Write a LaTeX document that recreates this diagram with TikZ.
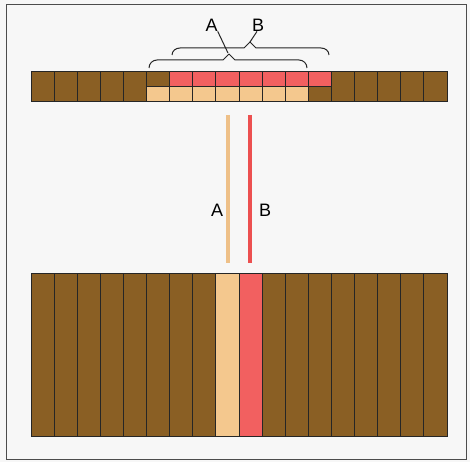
\documentclass[tikz,border=0pt]{standalone}
\usepackage{fontspec}
\setmainfont{Liberation Sans}
\definecolor{bgc}{HTML}{F7F7F7}
\definecolor{brownc}{HTML}{8A5F24}
\definecolor{tanc}{HTML}{F4C88E}
\definecolor{redc}{HTML}{F26060}
\definecolor{tanline}{HTML}{EEC088}
\definecolor{redline}{HTML}{EC5050}
\tikzset{
  cell/.style={draw=black!85, line width=1pt},
  brace/.style={draw=black!85, line width=1pt, line join=round},
  lbl/.style={font=\fontsize{18}{20}\selectfont, inner sep=0pt},
  vline/.style={line width=4pt}
}
\begin{document}
\begin{tikzpicture}[x=1pt,y=-1pt]
\useasboundingbox (0,0) rectangle (470,462);
\fill[bgc] (0,0) rectangle (470,462);
\draw[black!70, line width=0.9pt] (6,4) rectangle (466,459);
% top strip
\foreach \i in {0,...,17}{
  \pgfmathsetmacro{\xa}{31+\i*416/18}
  \pgfmathsetmacro{\xb}{31+(\i+1)*416/18}
  \ifnum\i<5
    \filldraw[cell, fill=brownc] (\xa,72) rectangle (\xb,102);
  \else\ifnum\i>12
    \filldraw[cell, fill=brownc] (\xa,72) rectangle (\xb,102);
  \else\ifnum\i=5
    \filldraw[cell, fill=brownc] (\xa,72) rectangle (\xb,87);
    \filldraw[cell, fill=tanc] (\xa,87) rectangle (\xb,102);
  \else\ifnum\i=12
    \filldraw[cell, fill=redc] (\xa,72) rectangle (\xb,87);
    \filldraw[cell, fill=brownc] (\xa,87) rectangle (\xb,102);
  \else
    \filldraw[cell, fill=redc] (\xa,72) rectangle (\xb,87);
    \filldraw[cell, fill=tanc] (\xa,87) rectangle (\xb,102);
  \fi\fi\fi\fi
}
% braces
\draw[brace] (149,68) to[out=90,in=180] (157,60) -- (223,60) -- (229,54) -- (235,60) -- (299,60) to[out=0,in=90] (307,68);
\draw[brace] (172,55) to[out=90,in=180] (180,48) -- (244,48) -- (250,42) -- (256,48) -- (321,48) to[out=0,in=90] (329,55);
\coordinate (tipA) at (228,53);
\coordinate (tipB) at (250,42);
\node[lbl] (topA) at (211.5,25) {A};
\node[lbl] (topB) at (258,25) {B};
\draw[brace] (tipA) -- (topA.south east);
\draw[brace] (tipB) -- ([xshift=-1pt]topB.south);
% vertical lines
\coordinate (a1) at (228,115);
\coordinate (a2) at (228,263);
\coordinate (b1) at (250,115);
\coordinate (b2) at (250,263);
\draw[vline, tanline] (a1) -- (a2);
\draw[vline, redline] (b1) -- (b2);
\node[lbl] (midA) at (217,210) {A};
\node[lbl] (midB) at (265,210) {B};
% bottom block
\foreach \i in {0,...,17}{
  \pgfmathsetmacro{\xa}{31+\i*416/18}
  \pgfmathsetmacro{\xb}{31+(\i+1)*416/18}
  \ifnum\i=8
    \filldraw[cell, fill=tanc] (\xa,273) rectangle (\xb,436);
  \else\ifnum\i=9
    \filldraw[cell, fill=redc] (\xa,273) rectangle (\xb,436);
  \else
    \filldraw[cell, fill=brownc] (\xa,273) rectangle (\xb,436);
  \fi\fi
}
\end{tikzpicture}
\end{document}
